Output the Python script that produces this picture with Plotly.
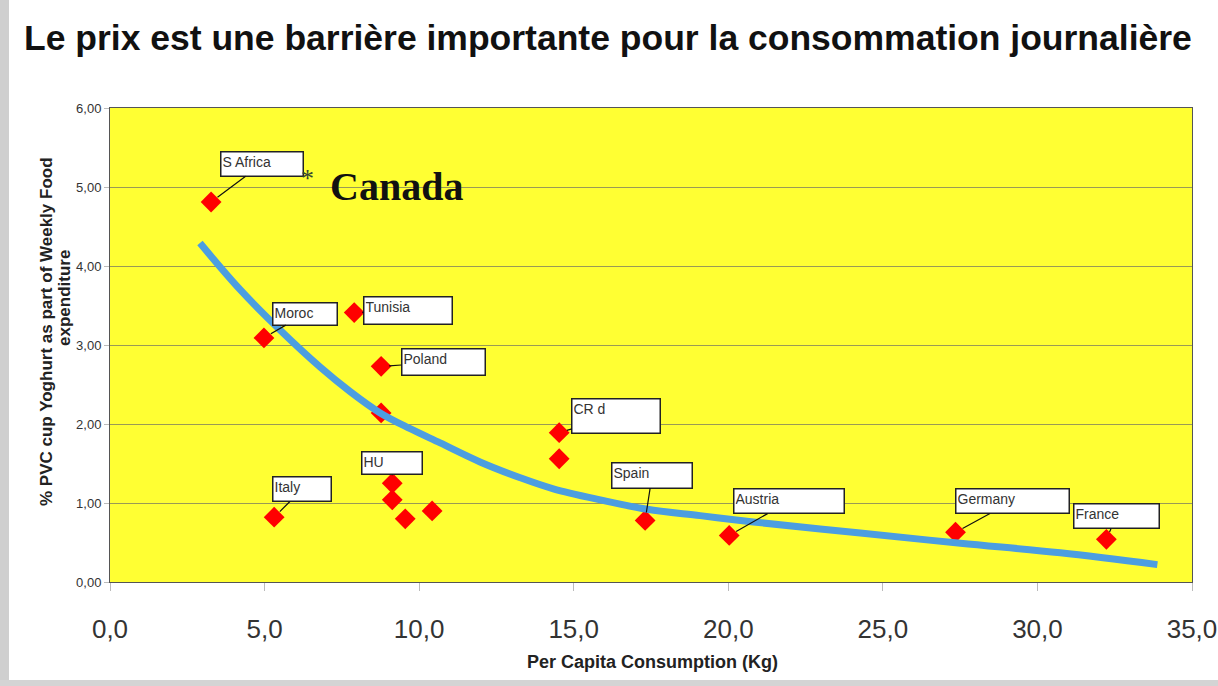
import plotly.graph_objects as go

# ---------------- data ----------------
title_text = "Le prix est une barrière importante pour la consommation journalière"
x_title = "Per Capita Consumption (Kg)"
y_title_1 = "% PVC cup Yoghurt as part of Weekly Food"
y_title_2 = "expenditure"

countries = ["S Africa", "Moroc", "Tunisia", "Poland", "", "CR d", "", "HU", "", "", "",
             "Italy", "Spain", "Austria", "Germany", "France"]
consumption = [3.27, 4.98, 7.90, 8.77, 8.77, 14.53, 14.53, 9.13, 9.13, 9.55, 10.42,
               5.31, 17.31, 20.03, 27.35, 32.23]
pvc_share = [4.81, 3.09, 3.41, 2.73, 2.14, 1.89, 1.56, 1.25, 1.04, 0.80, 0.90,
             0.82, 0.78, 0.59, 0.63, 0.54]

trend_x = [2.91, 4.21, 5.50, 6.80, 7.77, 8.74, 9.71, 10.68, 11.97, 13.27, 14.34,
           15.86, 17.38, 19.09, 20.81, 24.27, 27.51, 30.74, 33.88]
trend_y = [4.29, 3.70, 3.19, 2.72, 2.41, 2.14, 1.94, 1.76, 1.52, 1.32, 1.18,
           1.04, 0.92, 0.84, 0.76, 0.62, 0.49, 0.37, 0.22]

x_ticks = [0, 5, 10, 15, 20, 25, 30, 35]
x_tick_labels = ["0,0", "5,0", "10,0", "15,0", "20,0", "25,0", "30,0", "35,0"]
y_ticks = [0, 1, 2, 3, 4, 5, 6]
y_tick_labels = ["0,00", "1,00", "2,00", "3,00", "4,00", "5,00", "6,00"]

canada_label = "Canada"

# ---------------- layout helpers ----------------
W, H = 1218, 686
L, R, T, B = 110, 26, 108, 104
PW, PH = W - L - R, H - T - B


def px_x(p):
    return (p - L) / PW


def px_y(p):
    return (H - B - p) / PH


# callout box placement: offset of box centre from point (px), box size (px)
callout_style = {
    "S Africa": (51, -38, 85, 27),
    "Moroc": (41, -24, 67, 25),
    "Tunisia": (54, -2, 91, 30),
    "Poland": (62, -4, 86, 29),
    "CR d": (57, -17, 91, 37),
    "HU": (0, -20, 63, 25),
    "Italy": (28, -28, 61, 27),
    "Spain": (7, -45, 83, 28),
    "Austria": (60, -34, 113, 27),
    "Germany": (57, -31, 116, 27),
    "France": (10, -23, 88, 27),
}

fig = go.Figure()

fig.add_trace(go.Scatter(
    x=consumption, y=pvc_share, mode="markers",
    marker=dict(symbol="diamond", size=16, color="#FF0000", line=dict(width=0)),
    hoverinfo="skip", showlegend=False,
))

fig.add_trace(go.Scatter(
    x=trend_x, y=trend_y, mode="lines",
    line=dict(color="#4C9EE0", width=7, shape="spline", smoothing=1.0),
    hoverinfo="skip", showlegend=False,
))

annotations = []
for name, xv, yv in zip(countries, consumption, pvc_share):
    if not name:
        continue
    ax, ay, bw, bh = callout_style[name]
    annotations.append(dict(
        x=xv, y=yv, xref="x", yref="y", text=name,
        showarrow=True, ax=ax, ay=ay, arrowhead=0, arrowwidth=1.2,
        arrowcolor="#111111", standoff=8,
        width=bw - 6, height=bh - 6, align="left", valign="top",
        bgcolor="white", bordercolor="#222222", borderwidth=1.5, borderpad=1,
        font=dict(family="Liberation Sans, Arial", size=14, color="#333333"),
    ))

# Canada note
annotations.append(dict(
    x=6.38, y=5.11, xref="x", yref="y", text="*", showarrow=False,
    font=dict(family="Liberation Serif, Times New Roman", size=26, color="#334433"),
    xanchor="center", yanchor="middle",
))
annotations.append(dict(
    x=7.05, y=5.01, xref="x", yref="y", text="<b>" + canada_label + "</b>", showarrow=False,
    font=dict(family="Liberation Serif, Times New Roman", size=40, color="#111111"),
    xanchor="left", yanchor="middle",
))

# title
annotations.append(dict(
    x=px_x(22), y=px_y(38), xref="paper", yref="paper", text="<b>" + title_text + "</b>",
    showarrow=False, xanchor="left", yanchor="middle",
    font=dict(family="Liberation Sans, Arial", size=35.5, color="#111111"),
))
# axis titles
annotations.append(dict(
    x=px_x(652), y=px_y(662), xref="paper", yref="paper", text="<b>" + x_title + "</b>",
    showarrow=False, xanchor="center", yanchor="middle",
    font=dict(family="Liberation Sans, Arial", size=18, color="#222222"),
))
annotations.append(dict(
    x=px_x(46), y=px_y(332), xref="paper", yref="paper", text="<b>" + y_title_1 + "</b>",
    showarrow=False, xanchor="center", yanchor="middle", textangle=-90,
    font=dict(family="Liberation Sans, Arial", size=17, color="#222222"),
))
annotations.append(dict(
    x=px_x(64), y=px_y(298), xref="paper", yref="paper", text="<b>" + y_title_2 + "</b>",
    showarrow=False, xanchor="center", yanchor="middle", textangle=-90,
    font=dict(family="Liberation Sans, Arial", size=17, color="#222222"),
))

shapes = [
    # grey slide frame on the left and bottom
    dict(type="rect", xref="paper", yref="paper", x0=px_x(0), x1=px_x(9), y0=px_y(686), y1=px_y(0),
         fillcolor="#cfcfcf", line=dict(width=0), layer="below"),
    dict(type="rect", xref="paper", yref="paper", x0=px_x(0), x1=px_x(1218), y0=px_y(686), y1=px_y(680),
         fillcolor="#d4d4d4", line=dict(width=0), layer="below"),
]

fig.update_layout(
    width=W, height=H,
    margin=dict(l=L, r=R, t=T, b=B, autoexpand=False),
    paper_bgcolor="white",
    plot_bgcolor="#FFFF33",
    showlegend=False,
    annotations=annotations,
    shapes=shapes,
)

fig.update_xaxes(
    range=[0, 35], tickvals=x_ticks, ticktext=x_tick_labels,
    automargin=False,
    showgrid=False, zeroline=False,
    showline=True, linecolor="#555555", linewidth=1, mirror=True,
    ticks="outside", ticklen=8, tickcolor="#bbbbbb", tickwidth=1,
    ticklabelstandoff=16,
    tickfont=dict(family="Liberation Sans, Arial", size=26, color="#333333"),
)
fig.update_yaxes(
    range=[0, 6], tickvals=y_ticks, ticktext=y_tick_labels,
    automargin=False,
    showgrid=True, gridcolor="#9a9a55", gridwidth=1, zeroline=False,
    showline=True, linecolor="#555555", linewidth=1, mirror=True,
    ticks="outside", ticklen=5, tickcolor="#bbbbbb", tickwidth=1,
    tickfont=dict(family="Liberation Sans, Arial", size=13, color="#333333"),
)

fig.write_html(
    "out.html",
    config={"displayModeBar": False},
    post_script="document.body.style.margin='0px';document.body.style.overflow='hidden';",
)
